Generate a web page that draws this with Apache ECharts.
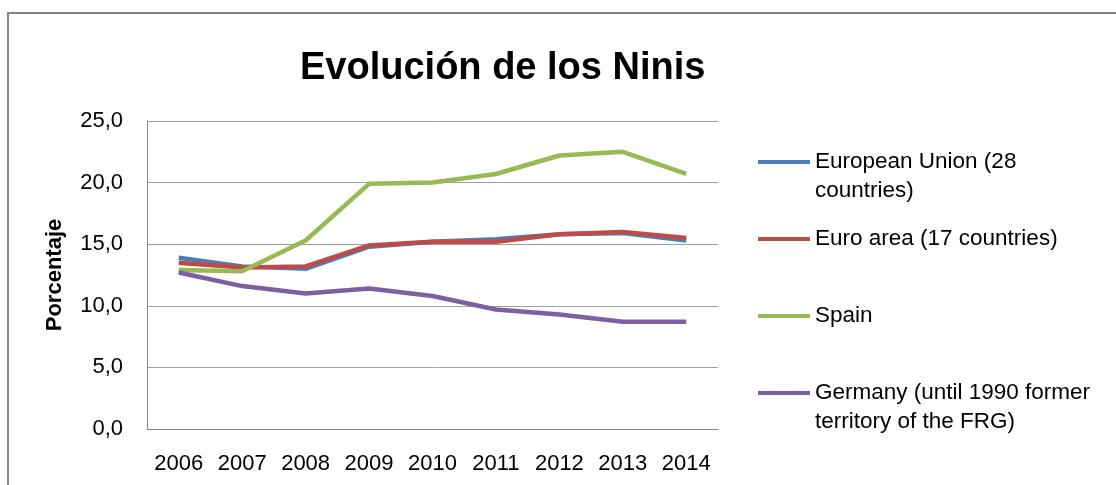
<!DOCTYPE html>
<html>
<head>
<meta charset="utf-8">
<script src="https://cdn.jsdelivr.net/npm/echarts@6/dist/echarts.min.js"></script>
<style>
html,body{margin:0;padding:0;background:#fff;}
#chart{width:1116px;height:485px;}
</style>
</head>
<body>
<div id="chart"></div>
<script>
const categories = ['2006','2007','2008','2009','2010','2011','2012','2013','2014'];
const seriesNames = ['European Union (28 countries)','Euro area (17 countries)','Spain','Germany (until 1990 former territory of the FRG)'];
const legendLabels = ['\nEuropean Union (28\ncountries)','Euro area (17 countries)','Spain','\nGermany (until 1990 former\nterritory of the FRG)'];
const euValues = [13.9, 13.2, 13.0, 14.8, 15.2, 15.4, 15.8, 15.9, 15.3];
const euroAreaValues = [13.5, 13.1, 13.2, 14.9, 15.2, 15.2, 15.8, 16.0, 15.5];
const spainValues = [12.9, 12.8, 15.3, 19.9, 20.0, 20.7, 22.2, 22.5, 20.7];
const germanyValues = [12.7, 11.6, 11.0, 11.4, 10.8, 9.7, 9.3, 8.7, 8.7];
const yTickLabels = ['0,0','5,0','10,0','15,0','20,0','25,0'];

const colors = ['#4a7ebb','#be4b48','#98b954','#7d60a0'];
const FONT = 'Liberation Sans';
const allValues = [euValues, euroAreaValues, spainValues, germanyValues];

const legendTops = [118.5, 224.5, 301.5, 349.5];
const legends = seriesNames.map((n, i) => ({
  data: [n],
  left: 758,
  top: legendTops[i],
  padding: 0,
  icon: 'rect',
  itemWidth: 52,
  itemHeight: 4,
  selectedMode: false,
  formatter: () => legendLabels[i],
  textStyle: {fontFamily: FONT, fontSize: 22.5, color: '#000', lineHeight: 29}
}));

const chart = echarts.init(document.getElementById('chart'), null, {renderer: 'canvas'});
chart.setOption({
  animation: false,
  backgroundColor: '#fff',
  color: colors,
  title: {
    text: 'Evolución de los Ninis',
    left: 300,
    top: 49,
    padding: 0,
    textStyle: {fontFamily: FONT, fontSize: 38, fontWeight: 'bold', color: '#000', lineHeight: 40}
  },
  graphic: [{
    type: 'rect',
    shape: {x: 8, y: 13, width: 1300, height: 700},
    style: {fill: 'none', stroke: '#868686', lineWidth: 2},
    silent: true, z: -1
  }],
  legend: legends,
  grid: {left: 147, right: 398, top: 121, bottom: 56, containLabel: false},
  xAxis: {
    type: 'category',
    data: categories,
    boundaryGap: true,
    axisLine: {show: true, lineStyle: {color: '#868686', width: 1}},
    axisTick: {show: false},
    axisLabel: {fontFamily: FONT, fontSize: 22, color: '#000', margin: 24, interval: 0, hideOverlap: false}
  },
  yAxis: {
    type: 'value',
    min: 0, max: 25, interval: 5,
    name: 'Porcentaje',
    nameLocation: 'middle',
    nameRotate: 90,
    nameGap: 81,
    nameTextStyle: {fontFamily: FONT, fontSize: 22, fontWeight: 'bold', color: '#000'},
    axisLine: {show: true, lineStyle: {color: '#868686', width: 1}},
    axisTick: {show: false},
    splitLine: {show: true, lineStyle: {color: '#a0a0a0', width: 1}},
    axisLabel: {
      fontFamily: FONT, fontSize: 22, color: '#000', margin: 24,
      formatter: v => yTickLabels[Math.round(v / 5)]
    }
  },
  series: seriesNames.map((n, i) => ({
    name: n,
    type: 'line',
    data: allValues[i],
    symbol: 'none',
    lineStyle: {width: 4.5, color: colors[i], join: 'round'},
    itemStyle: {color: colors[i]}
  }))
});
</script>
</body>
</html>
